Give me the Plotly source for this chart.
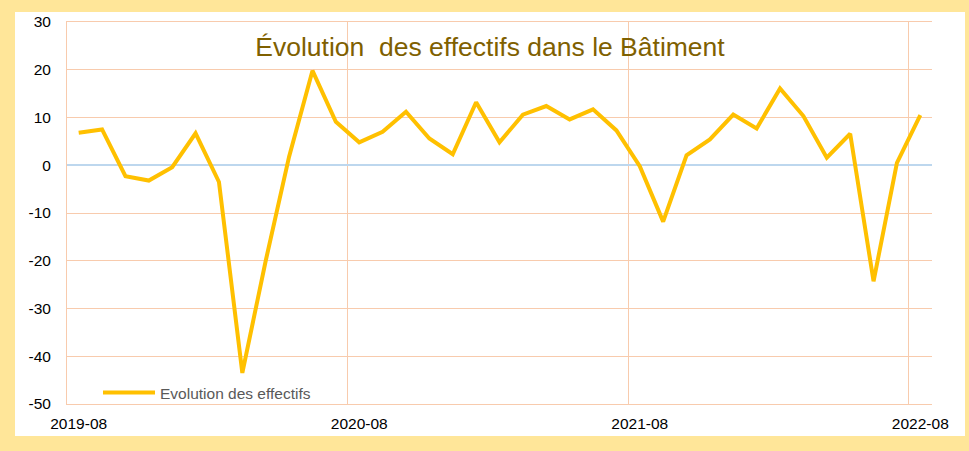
import plotly.graph_objects as go

months = [
    "2019-08", "2019-09", "2019-10", "2019-11", "2019-12", "2020-01", "2020-02",
    "2020-03", "2020-04", "2020-05", "2020-06", "2020-07", "2020-08", "2020-09",
    "2020-10", "2020-11", "2020-12", "2021-01", "2021-02", "2021-03", "2021-04",
    "2021-05", "2021-06", "2021-07", "2021-08", "2021-09", "2021-10", "2021-11",
    "2021-12", "2022-01", "2022-02", "2022-03", "2022-04", "2022-05", "2022-06",
    "2022-07", "2022-08",
]
effectifs = [
    6.8, 7.5, -2.3, -3.2, -0.4, 6.7, -3.5,
    -43.5, -20.0, 1.8, 19.8, 9.1, 4.8, 7.0,
    11.2, 5.6, 2.3, 13.2, 4.8, 10.6, 12.4,
    9.6, 11.7, 7.3, -0.2, -11.8, 2.1, 5.4,
    10.6, 7.7, 16.1, 10.3, 1.6, 6.6, -24.3,
    0.5, 10.5,
]
tick_labels = ["2019-08", "2020-08", "2021-08", "2022-08"]
y_ticks = [-50, -40, -30, -20, -10, 0, 10, 20, 30]
y_tick_labels = ["-50", "-40", "-30", "-20", "-10", "0", "10", "20", "30"]

title_text = "Évolution\u00a0 des effectifs dans le Bâtiment"
series_name = "Evolution des effectifs"

W, H = 969, 451
ml, mr, mt, mb = 67, 37, 22, 47
pw, ph = W - ml - mr, H - mt - mb

def px_x(px):
    return (px - ml) / pw

def px_y(py):
    return (H - mb - py) / ph

FONT = "Liberation Sans, Arial, sans-serif"
GRID = "#F8CBAD"

fig = go.Figure()
fig.add_trace(go.Scatter(
    x=months, y=effectifs, mode="lines", name=series_name,
    line=dict(color="#FFC000", width=4),
    showlegend=True,
))

fig.update_layout(
    width=W, height=H,
    margin=dict(l=ml, r=mr, t=mt, b=mb, pad=0),
    paper_bgcolor="#FFE699",
    plot_bgcolor="white",
    font=dict(family=FONT, size=15.5, color="black"),
    title=dict(
        text=title_text,
        font=dict(family=FONT, size=26.5, color="#7F6000"),
        xref="container", x=490 / W, xanchor="center",
        yref="container", y=1 - 47 / H, yanchor="middle",
    ),
    showlegend=True,
    legend=dict(
        x=px_x(98), y=-6 / ph, xanchor="left", yanchor="bottom",
        bgcolor="rgba(0,0,0,0)", itemwidth=52,
        font=dict(family=FONT, size=15.5, color="#595959"),
    ),
    xaxis=dict(
        type="category",
        categoryorder="array", categoryarray=months,
        range=[-0.5, len(months) - 0.5],
        tickmode="array", tickvals=tick_labels, ticktext=tick_labels,
        tickson="boundaries", tickangle=0, automargin=False,
        showgrid=True, gridcolor=GRID, gridwidth=1,
        showline=True, linecolor=GRID, linewidth=1, mirror=True,
        zeroline=False,
        ticks="", ticklabelstandoff=5,
        tickfont=dict(family=FONT, size=15.5, color="black"),
    ),
    yaxis=dict(
        range=[-50, 30], automargin=False,
        tickmode="array", tickvals=y_ticks, ticktext=y_tick_labels,
        showgrid=True, gridcolor=GRID, gridwidth=1,
        zeroline=True, zerolinecolor="#BDD7EE", zerolinewidth=1.5,
        showline=True, linecolor=GRID, linewidth=1, mirror=False,
        ticks="", ticklabelstandoff=12,
        tickfont=dict(family=FONT, size=15.5, color="black"),
    ),
    shapes=[dict(
        type="rect", xref="paper", yref="paper",
        x0=px_x(15), x1=px_x(965), y0=px_y(436), y1=px_y(12),
        fillcolor="white", line=dict(width=0), layer="below",
    )],
)

fig.write_html(
    "out.html",
    config={"displayModeBar": False},
    post_script="document.body.style.margin='0';",
)
